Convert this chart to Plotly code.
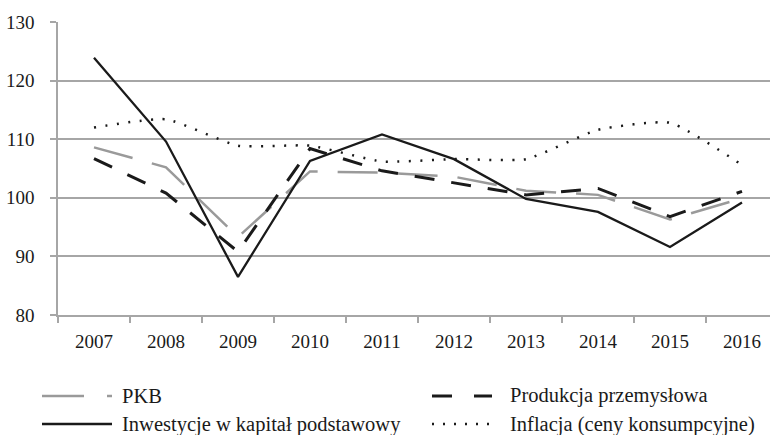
import plotly.graph_objects as go

years = ["2007", "2008", "2009", "2010", "2011", "2012", "2013", "2014", "2015", "2016"]
pkb = [108.6, 105.2, 93.3, 104.5, 104.3, 103.6, 101.2, 100.5, 96.3, 99.9]
produkcja = [106.7, 100.8, 90.8, 108.4, 104.6, 102.5, 100.5, 101.6, 96.8, 101.1]
inwestycje = [123.9, 109.6, 86.5, 106.3, 110.8, 106.6, 99.8, 97.6, 91.6, 99.2]
inflacja = [112.0, 113.4, 108.9, 108.9, 106.2, 106.6, 106.6, 111.6, 112.8, 105.6]
y_ticks = [80, 90, 100, 110, 120, 130]

names = ["PKB", "Produkcja przemysłowa", "Inwestycje w kapitał podstawowy", "Inflacja (ceny konsumpcyjne)"]

FONT = "'Liberation Serif', 'Times New Roman', serif"
GRID = "#a6a6a6"
TXT = "#1a1a1a"

fig = go.Figure()
fig.add_trace(go.Scatter(x=years, y=pkb, mode="lines", name=names[0],
                         line=dict(color="#9a9a9a", width=2.5, dash="40px,20px")))
fig.add_trace(go.Scatter(x=years, y=produkcja, mode="lines", name=names[1],
                         line=dict(color=TXT, width=3, dash="20px,17px")))
fig.add_trace(go.Scatter(x=years, y=inwestycje, mode="lines", name=names[2],
                         line=dict(color=TXT, width=2.3)))
fig.add_trace(go.Scatter(x=years, y=inflacja, mode="lines", name=names[3],
                         line=dict(color=TXT, width=2.5, dash="2px,9.5px", shape="spline", smoothing=0.5)))

L, R, T, B = 58, 0, 22, 120
W, H = 770, 435
pw, ph = W - L - R, H - T - B

def px(x):
    return (x - L) / pw

def py(y):
    return (H - B - y) / ph

# custom legend
legend_items = [
    (42, 112, 120, 396, dict(color="#9a9a9a", width=2.5, dash="42px,23px"), names[0]),
    (432, 492, 508, 396, dict(color=TXT, width=3, dash="20px,22px"), names[1]),
    (42, 112, 120, 424, dict(color=TXT, width=2.3), names[2]),
    (432, 492, 508, 424, dict(color=TXT, width=2.3, dash="2px,9px"), names[3]),
]
for x0, x1, tx, yy, ln, txt in legend_items:
    fig.add_shape(type="line", xref="paper", yref="paper", x0=px(x0), x1=px(x1),
                  y0=py(yy), y1=py(yy), line=ln)
    fig.add_annotation(xref="paper", yref="paper", x=px(tx), y=py(yy), text=txt,
                       showarrow=False, xanchor="left", yanchor="middle",
                       font=dict(family=FONT, size=20.5, color=TXT))

fig.update_layout(
    width=W, height=H,
    margin=dict(l=L, r=R, t=T, b=B, pad=0),
    paper_bgcolor="white", plot_bgcolor="white",
    showlegend=False,
    font=dict(family=FONT, size=19, color=TXT),
)
fig.update_xaxes(
    type="category", range=[-0.5, -0.5 + pw / 72.0],
    tickson="boundaries", ticks="outside", ticklen=6, tickwidth=1.5, tickcolor=GRID,
    showline=True, linecolor=GRID, linewidth=1.5, showgrid=False,
    ticklabelstandoff=8, tickfont=dict(family=FONT, size=19, color=TXT),
)
fig.update_yaxes(
    range=[80, 130], tickvals=y_ticks, ticks="outside", ticklen=6, tickwidth=1.5, tickcolor=GRID,
    showline=True, linecolor=GRID, linewidth=1.5,
    showgrid=True, gridcolor=GRID, gridwidth=1.5, zeroline=False,
    ticklabelstandoff=12, tickfont=dict(family=FONT, size=19, color=TXT),
)

fig.write_html("out.html", config={"displayModeBar": False},
               post_script="document.body.style.margin='0px';document.body.style.overflow='hidden';")
